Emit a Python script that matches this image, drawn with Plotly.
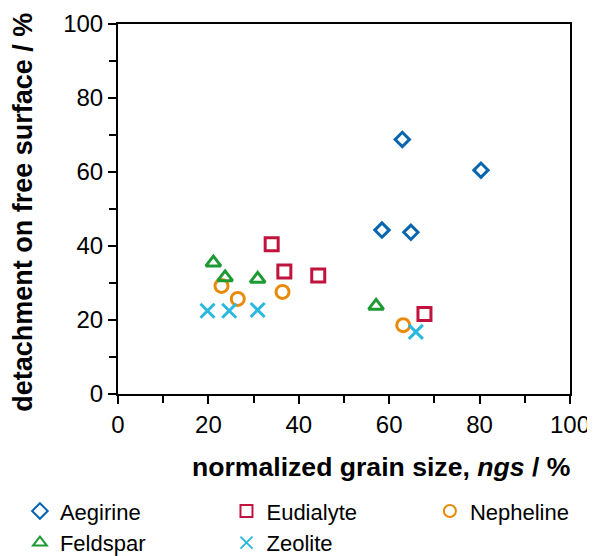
import plotly.graph_objects as go

# Data
aeg_x = [62.9, 58.4, 64.8, 80.3]
aeg_y = [68.8, 44.3, 43.7, 60.5]
eud_x = [34.0, 36.8, 44.3, 67.8]
eud_y = [40.5, 33.1, 32.0, 21.6]
nep_x = [22.9, 26.5, 36.4, 63.1]
nep_y = [29.2, 25.7, 27.6, 18.6]
fel_x = [21.1, 23.7, 30.9, 57.1]
fel_y = [35.5, 31.5, 31.1, 23.8]
zeo_x = [19.8, 24.6, 30.9, 65.9]
zeo_y = [22.5, 22.5, 22.7, 16.8]

FONT = "Liberation Sans, Arial, sans-serif"

# name, x, y, symbol, colour, size, legend column
series = [
    ("Aegirine", aeg_x, aeg_y, "diamond-open", "#0565AE", 11, "legend"),
    ("Eudialyte", eud_x, eud_y, "square-open", "#C0143E", 13, "legend2"),
    ("Nepheline", nep_x, nep_y, "circle-open", "#E8890A", 13, "legend3"),
    ("Feldspar", fel_x, fel_y, "triangle-up-open", "#1E9A34", 13, "legend"),
    ("Zeolite", zeo_x, zeo_y, "x-thin-open", "#2BB8E0", 14, "legend2"),
]

fig = go.Figure()
for name, xs, ys, sym, col, sz, lg in series:
    fig.add_trace(go.Scatter(
        x=xs, y=ys, mode="markers", name=name, legend=lg,
        marker=dict(symbol=sym, size=sz, color=col,
                    line=dict(color=col, width=3)),
    ))

axis_common = dict(
    range=[0, 100], dtick=20, tick0=0,
    showgrid=False, zeroline=False,
    showline=True, linecolor="black", linewidth=2, mirror=True,
    ticks="outside", ticklen=8, tickwidth=2, tickcolor="black",
    tickfont=dict(family=FONT, size=24, color="black"),
    minor=dict(dtick=10, ticks="outside", ticklen=7, tickwidth=2, tickcolor="black"),
)

fig.update_xaxes(**axis_common)
fig.update_yaxes(**axis_common)

fig.add_annotation(
    xref="paper", yref="paper", x=1.005, y=-0.197,
    xanchor="right", yanchor="middle", showarrow=False,
    text="<b>normalized grain size, <i>ngs</i> / %</b>",
    font=dict(family=FONT, size=26.6, color="black"),
)
fig.add_annotation(
    xref="paper", yref="paper", x=-0.21, y=0.49,
    xanchor="center", yanchor="middle", showarrow=False, textangle=-90,
    text="<b>detachment on free surface / %</b>",
    font=dict(family=FONT, size=27, color="black"),
)

legend_common = dict(
    orientation="v", y=-0.260, yanchor="top", xanchor="left",
    font=dict(family=FONT, size=22, color="black"),
    itemsizing="constant", tracegroupgap=0, bgcolor="rgba(0,0,0,0)",
)

# The page body adds an 8 px offset, so the figure is 8 px smaller here.
fig.update_layout(
    width=587, height=548,
    margin=dict(l=110, r=25, t=16, b=162, autoexpand=False),
    paper_bgcolor="white", plot_bgcolor="white",
    showlegend=True,
    legend=dict(x=-0.217, **legend_common),
    legend2=dict(x=0.240, **legend_common),
    legend3=dict(x=0.690, **legend_common),
)

fig.write_html("out.html")
